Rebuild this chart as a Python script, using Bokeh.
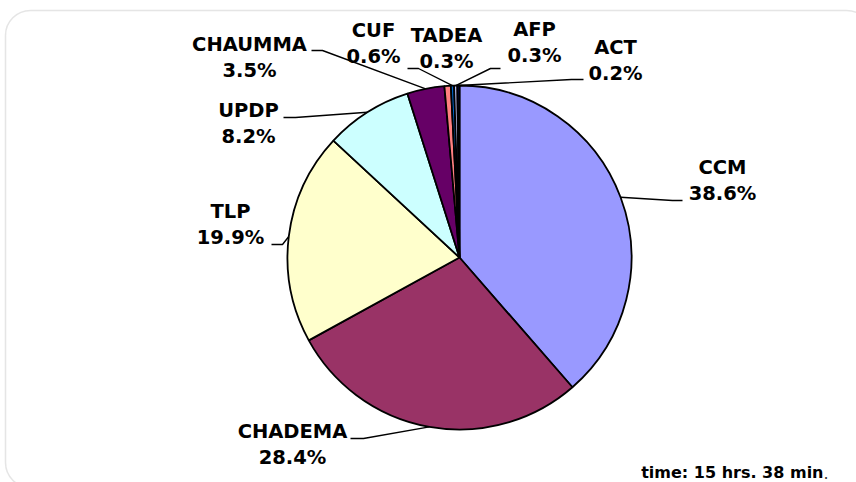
import numpy as np
from bokeh.plotting import figure
from bokeh.models import BoxAnnotation
from bokeh.core.properties import value
from bokeh.embed import file_html
from bokeh.resources import INLINE

# ---- data ----
parties = ["CCM", "CHADEMA", "TLP", "UPDP", "CHAUMMA", "CUF", "TADEA", "AFP", "ACT"]
shares = [38.6, 28.4, 19.9, 8.2, 3.5, 0.6, 0.3, 0.3, 0.2]
colors = ["#9999FF", "#993366", "#FFFFCC", "#CCFFFF", "#660066",
          "#FF8080", "#0066CC", "#CCCCFF", "#000080"]
note_text = "time: 15 hrs. 38 min"

# ---- layout (page pixels) ----
W, H = 856, 482
def X(px): return px
def Y(py): return H - py

CX, CY, R = X(459), Y(257), 172
# name-line centre of each label, and leader end (label side) + elbow x
label_pos = {
    "CCM": (722, 167), "CHADEMA": (292, 431), "TLP": (230, 211),
    "UPDP": (248, 110), "CHAUMMA": (249, 44), "CUF": (373, 30),
    "TADEA": (446, 35), "AFP": (534, 29), "ACT": (615, 47),
}
leader_pos = {
    "CCM": ((682, 200), 672), "CHADEMA": ((350, 438), 363),
    "TLP": ((271, 244), 282), "UPDP": ((283, 117), 295),
    "CHAUMMA": ((311, 50), 322), "TADEA": ((407, 68), 418),
    "AFP": ((500, 68), 490), "ACT": ((583, 79), 571),
}
LINE_GAP = 26

fr = np.array(shares) / sum(shares)
cum = np.concatenate([[0], np.cumsum(fr)])
start = np.pi / 2 - 2 * np.pi * cum[:-1]
end = np.pi / 2 - 2 * np.pi * cum[1:]
mid = (start + end) / 2

p = figure(width=W, height=H, x_range=(0, W), y_range=(0, H),
           output_backend="svg", toolbar_location=None, min_border=0,
           background_fill_color="white", border_fill_color="white")
p.xaxis.visible = False
p.yaxis.visible = False
p.grid.visible = False
p.outline_line_color = None

# rounded chart border
p.add_layout(BoxAnnotation(left=X(5), right=X(871), top=Y(10), bottom=Y(487),
                           fill_alpha=0, line_color="#a8a8a8", line_width=1.5,
                           border_radius=25))

p.wedge(x=CX, y=CY, radius=R, start_angle=list(start), end_angle=list(end),
        direction="clock", fill_color=colors, line_color="black", line_width=1.8)

# leader lines
xs, ys = [], []
for i, name in enumerate(parties):
    if name not in leader_pos:
        continue
    (lx, ly), ex = leader_pos[name]
    px_ = CX + R * np.cos(mid[i])
    py_ = CY + R * np.sin(mid[i])
    xs.append([X(lx), X(ex), px_])
    ys.append([Y(ly), Y(ly), py_])
p.multi_line(xs=xs, ys=ys, line_color="black", line_width=1.4)

font = value("DejaVu Sans")
nx = [X(label_pos[n][0]) for n in parties]
ny1 = [Y(label_pos[n][1]) for n in parties]
ny2 = [Y(label_pos[n][1] + LINE_GAP) for n in parties]
p.text(x=nx, y=ny1, text=parties, text_font=font, text_font_style="bold",
       text_font_size="19.5px", text_align="center", text_baseline="middle",
       text_color="black")
p.text(x=nx, y=ny2, text=[f"{v:.1f}%" for v in shares], text_font=font,
       text_font_style="bold", text_font_size="19.5px", text_align="center",
       text_baseline="middle", text_color="black")

p.text(x=[X(823)], y=[Y(472)], text=[note_text], text_font=font,
       text_font_style="bold", text_font_size="16px", text_align="right",
       text_baseline="alphabetic", text_color="black")
p.text(x=[X(823)], y=[Y(472)], text=["."], text_font=font,
       text_font_size="16px", text_align="left",
       text_baseline="alphabetic", text_color="#333333")

open("out.html", "w").write(file_html(p, INLINE))
